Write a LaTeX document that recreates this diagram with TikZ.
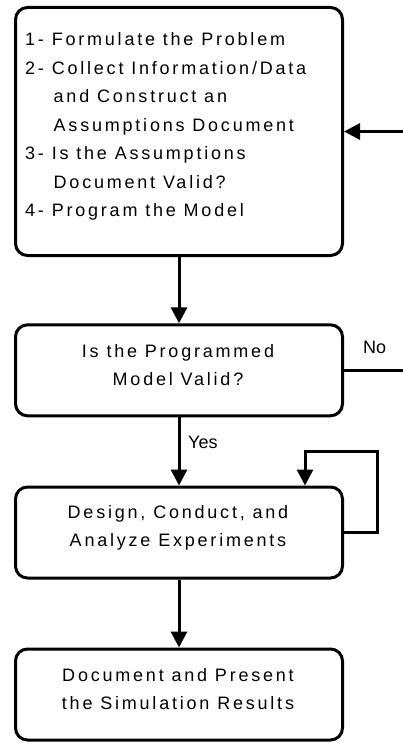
\documentclass[tikz,border=0pt]{standalone}
\usepackage{fontspec}
\setmainfont{Liberation Sans}
\newfontfamily\trackfont[LetterSpace=15.5]{Liberation Sans}
\usetikzlibrary{arrows.meta}
\begin{document}
\begin{tikzpicture}[x=1pt,y=-1pt,
  stepbox/.style={draw, line width=3pt, rounded corners=12pt, minimum width=327pt, minimum height=91pt, inner sep=0pt},
  txt/.style={font=\trackfont\fontsize{18}{20}\selectfont, inner sep=0pt},
  lbl/.style={font=\fontsize{18}{21}\selectfont, inner sep=0pt},
  conn/.style={line width=3pt, -{Triangle[width=16pt,length=16pt]}},
  plainline/.style={line width=3pt}]
\useasboundingbox (0,0) rectangle (402,743);
% boxes
\node[stepbox, minimum height=248pt] (b1) at (179,131.5) {};
\node[stepbox] (b2) at (179,370.3) {};
\node[stepbox] (b3) at (179,532.5) {};
\node[stepbox] (b4) at (179,694.5) {};
% texts box 1
\node[txt, anchor=base west] (t11) at (25,46) {1- Formulate the Problem};
\node[txt, anchor=base west] (t12) at (25,74.5) {2- Collect Information/Data};
\node[txt, anchor=base west] (t13) at (53.5,103) {and Construct an};
\node[txt, anchor=base west] (t14) at (53.5,131.5) {Assumptions Document};
\node[txt, anchor=base west] (t15) at (25,160) {3- Is the Assumptions};
\node[txt, anchor=base west] (t16) at (53.5,188.5) {Document Valid?};
\node[txt, anchor=base west] (t17) at (25,217) {4- Program the Model};
% texts other boxes
\node[txt, anchor=base] (t21) at (178,357) {Is the Programmed};
\node[txt, anchor=base] (t22) at (178,385) {Model Valid?};
\node[txt, anchor=base] (t31) at (178,518.5) {Design, Conduct, and};
\node[txt, anchor=base] (t32) at (178,546.5) {Analyze Experiments};
\node[txt, anchor=base] (t41) at (178,681.5) {Document and Present};
\node[txt, anchor=base] (t42) at (178,709.5) {the Simulation Results};
% labels
\node[lbl, anchor=base west] (no) at (363,353) {No};
\node[lbl, anchor=base west] (yes) at (188,448) {Yes};
% connectors
\draw[conn] (b1.south) -- (b2.north);
\draw[conn] (b2.south) -- (b3.north);
\draw[conn] (b3.south) -- (b4.north);
\coordinate (fbin) at (403,131.5);
\coordinate (fbout) at (403,370.3);
\draw[conn] (fbin) -- (b1.east);
\draw[plainline] (b2.east) -- (fbout);
\coordinate (lp1) at (377.7,532.5);
\coordinate (lp2) at (377.7,451.7);
\coordinate (lp3) at (305,451.7);
\draw[conn] (b3.east) -- (lp1) -- (lp2) -- (lp3) -- (lp3 |- b3.north);
\end{tikzpicture}
\end{document}
